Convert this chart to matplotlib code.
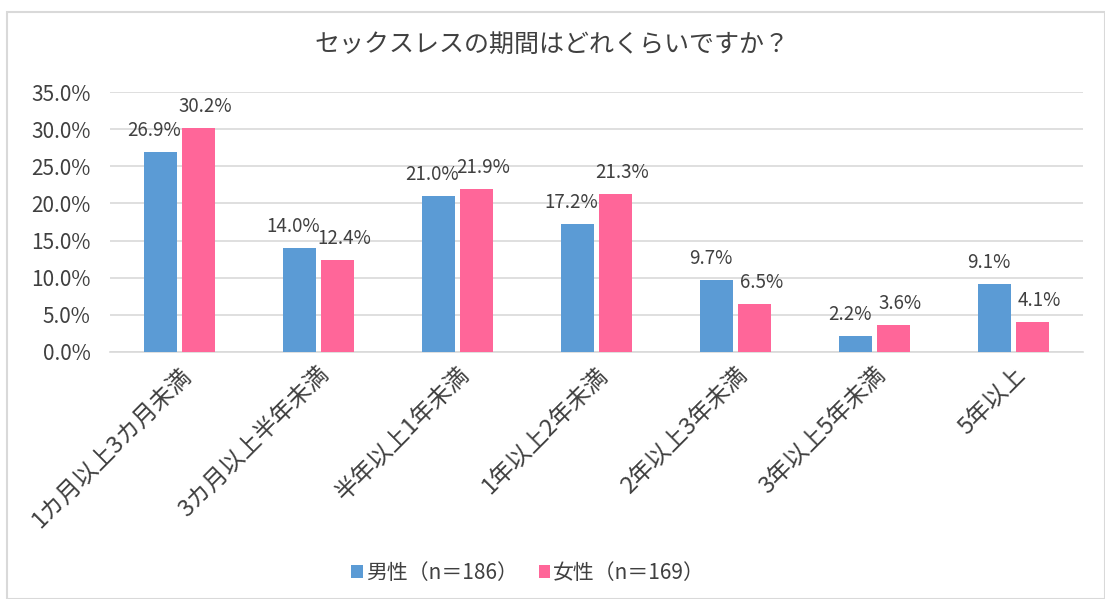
import numpy as np
import matplotlib
matplotlib.use("Agg")
import matplotlib.pyplot as plt
from matplotlib.patches import Rectangle

plt.rcParams['font.family'] = ['Noto Sans CJK JP', 'DejaVu Sans']

# data
categories = ["1カ月以上3カ月未満", "3カ月以上半年未満", "半年以上1年未満",
              "1年以上2年未満", "2年以上3年未満", "3年以上5年未満", "5年以上"]
male = [26.9, 14.0, 21.0, 17.2, 9.7, 2.2, 9.1]
female = [30.2, 12.4, 21.9, 21.3, 6.5, 3.6, 4.1]
series_names = ["男性（n＝186）", "女性（n＝169）"]
title = "セックスレスの期間はどれくらいですか？"

blue = "#5B9BD5"
pink = "#FF6699"
textcol = "#404040"

fig = plt.figure(figsize=(11.05, 5.99), dpi=100)
fig.patches.append(Rectangle((7/1105, 0), 1 - 7/1105, 1 - 12/599,
                             transform=fig.transFigure, fill=False,
                             edgecolor="#D9D9D9", linewidth=1.5))

ax = fig.add_axes([110/1105, 1 - 352/599, (1083 - 110)/1105, (352 - 92)/599])

x = np.arange(len(categories))
w = 0.237
off = 0.137
b1 = ax.bar(x - off, male, w, color=blue, label=series_names[0], zorder=3)
b2 = ax.bar(x + off, female, w, color=pink, label=series_names[1], zorder=3)

# excel pushes the labels of a pair slightly apart
for bars, vals, dx in ((b1, male, -6), (b2, female, 7)):
    for rect, v in zip(bars, vals):
        ax.annotate("%.1f%%" % v, (rect.get_x() + rect.get_width() / 2, v),
                    xytext=(dx, 11), textcoords="offset pixels",
                    ha="center", va="bottom", fontsize=13.5, color=textcol)

ax.set_xlim(-0.5, len(categories) - 0.5)
ax.set_ylim(0, 35)
ax.set_yticks(np.arange(0, 36, 5))
ax.set_yticklabels(["%.1f%%" % t for t in np.arange(0, 36, 5)],
                   fontsize=15, color=textcol)
ax.yaxis.grid(True, color="#D9D9D9", linewidth=1.2, zorder=0)
ax.set_axisbelow(True)
ax.tick_params(axis="y", length=0, pad=14)
ax.tick_params(axis="x", length=0, pad=8)
ax.set_xticks(x)
ax.set_xticklabels(categories, rotation=45, ha="right", rotation_mode="anchor",
                   fontsize=17, color=textcol)
for s in ["top", "right", "left"]:
    ax.spines[s].set_visible(False)
ax.spines["bottom"].set_color("#D9D9D9")
ax.spines["bottom"].set_linewidth(1.2)

fig.text(0.5, 1 - 45/599, title, ha="center", va="center",
         fontsize=18, color=textcol)

fig.legend(handles=[b1, b2], loc="center", bbox_to_anchor=(0.478, 1 - 573/599),
           ncol=2, frameon=False, fontsize=15, handlelength=0.55,
           handleheight=0.55, handletextpad=0.15, columnspacing=1.0,
           labelcolor=textcol)

fig.savefig("out.png", dpi=100)
